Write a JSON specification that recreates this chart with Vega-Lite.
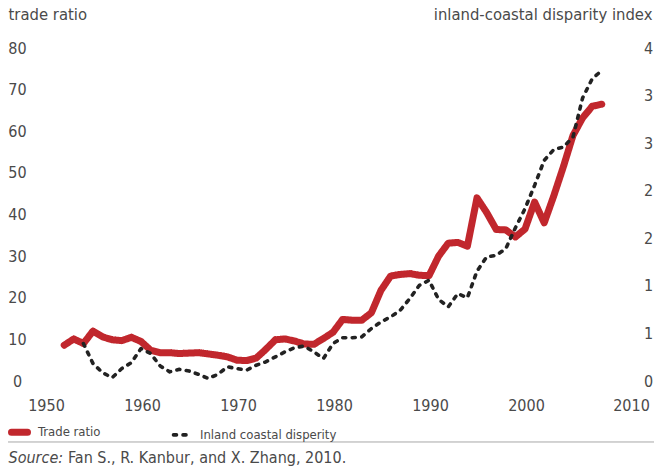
{
  "$schema": "https://vega.github.io/schema/vega-lite/v6.json",
  "width": 576,
  "height": 333,
  "autosize": {"type": "none"},
  "padding": {"left": 45, "top": 48, "right": 33, "bottom": 85},
  "background": "white",
  "config": {
    "view": {"stroke": null},
    "font": "DejaVu Sans Condensed, sans-serif",
    "axis": {
      "grid": false, "domain": false, "ticks": false, "tickSize": 0,
      "labelFont": "DejaVu Sans Condensed, sans-serif",
      "labelFontSize": 16, "labelColor": "#4a4a4a",
      "titleFont": "DejaVu Sans Condensed, sans-serif",
      "titleColor": "#4a4a4a", "titleFontWeight": "normal"
    },
    "legend": {
      "labelFont": "DejaVu Sans Condensed, sans-serif",
      "labelFontSize": 13, "labelColor": "#4a4a4a", "labelLimit": 300
    }
  },
  "data": {"values": [
    {"year": 1952, "series": "Trade ratio", "value": 8.6},
    {"year": 1953, "series": "Trade ratio", "value": 10.1},
    {"year": 1954, "series": "Trade ratio", "value": 9.0},
    {"year": 1955, "series": "Trade ratio", "value": 12.0},
    {"year": 1956, "series": "Trade ratio", "value": 10.6},
    {"year": 1957, "series": "Trade ratio", "value": 9.9},
    {"year": 1958, "series": "Trade ratio", "value": 9.7},
    {"year": 1959, "series": "Trade ratio", "value": 10.5},
    {"year": 1960, "series": "Trade ratio", "value": 9.5},
    {"year": 1961, "series": "Trade ratio", "value": 7.4},
    {"year": 1962, "series": "Trade ratio", "value": 6.8},
    {"year": 1963, "series": "Trade ratio", "value": 6.8},
    {"year": 1964, "series": "Trade ratio", "value": 6.6},
    {"year": 1965, "series": "Trade ratio", "value": 6.7},
    {"year": 1966, "series": "Trade ratio", "value": 6.8},
    {"year": 1967, "series": "Trade ratio", "value": 6.5},
    {"year": 1968, "series": "Trade ratio", "value": 6.2},
    {"year": 1969, "series": "Trade ratio", "value": 5.8},
    {"year": 1970, "series": "Trade ratio", "value": 5.0},
    {"year": 1971, "series": "Trade ratio", "value": 4.9},
    {"year": 1972, "series": "Trade ratio", "value": 5.5},
    {"year": 1973, "series": "Trade ratio", "value": 7.6},
    {"year": 1974, "series": "Trade ratio", "value": 9.9},
    {"year": 1975, "series": "Trade ratio", "value": 10.1},
    {"year": 1976, "series": "Trade ratio", "value": 9.6},
    {"year": 1977, "series": "Trade ratio", "value": 8.9},
    {"year": 1978, "series": "Trade ratio", "value": 8.8},
    {"year": 1979, "series": "Trade ratio", "value": 10.2},
    {"year": 1980, "series": "Trade ratio", "value": 11.7},
    {"year": 1981, "series": "Trade ratio", "value": 14.8},
    {"year": 1982, "series": "Trade ratio", "value": 14.6},
    {"year": 1983, "series": "Trade ratio", "value": 14.6},
    {"year": 1984, "series": "Trade ratio", "value": 16.4},
    {"year": 1985, "series": "Trade ratio", "value": 21.8},
    {"year": 1986, "series": "Trade ratio", "value": 25.2},
    {"year": 1987, "series": "Trade ratio", "value": 25.6},
    {"year": 1988, "series": "Trade ratio", "value": 25.8},
    {"year": 1989, "series": "Trade ratio", "value": 25.4},
    {"year": 1990, "series": "Trade ratio", "value": 25.3},
    {"year": 1991, "series": "Trade ratio", "value": 30.0},
    {"year": 1992, "series": "Trade ratio", "value": 33.1},
    {"year": 1993, "series": "Trade ratio", "value": 33.3},
    {"year": 1994, "series": "Trade ratio", "value": 32.4},
    {"year": 1995, "series": "Trade ratio", "value": 44.0},
    {"year": 1996, "series": "Trade ratio", "value": 40.5},
    {"year": 1997, "series": "Trade ratio", "value": 36.4},
    {"year": 1998, "series": "Trade ratio", "value": 36.3},
    {"year": 1999, "series": "Trade ratio", "value": 34.6},
    {"year": 2000, "series": "Trade ratio", "value": 36.5},
    {"year": 2001, "series": "Trade ratio", "value": 43.0},
    {"year": 2002, "series": "Trade ratio", "value": 38.0},
    {"year": 2003, "series": "Trade ratio", "value": 44.5},
    {"year": 2004, "series": "Trade ratio", "value": 51.5},
    {"year": 2005, "series": "Trade ratio", "value": 59.0},
    {"year": 2006, "series": "Trade ratio", "value": 63.2},
    {"year": 2007, "series": "Trade ratio", "value": 66.0},
    {"year": 2008, "series": "Trade ratio", "value": 66.5},
    {"year": 1954, "series": "Inland coastal disperity", "value": 0.45},
    {"year": 1955, "series": "Inland coastal disperity", "value": 0.21},
    {"year": 1956, "series": "Inland coastal disperity", "value": 0.10},
    {"year": 1957, "series": "Inland coastal disperity", "value": 0.04},
    {"year": 1958, "series": "Inland coastal disperity", "value": 0.15},
    {"year": 1959, "series": "Inland coastal disperity", "value": 0.22},
    {"year": 1960, "series": "Inland coastal disperity", "value": 0.39},
    {"year": 1961, "series": "Inland coastal disperity", "value": 0.33},
    {"year": 1962, "series": "Inland coastal disperity", "value": 0.18},
    {"year": 1963, "series": "Inland coastal disperity", "value": 0.11},
    {"year": 1964, "series": "Inland coastal disperity", "value": 0.14},
    {"year": 1965, "series": "Inland coastal disperity", "value": 0.12},
    {"year": 1966, "series": "Inland coastal disperity", "value": 0.08},
    {"year": 1967, "series": "Inland coastal disperity", "value": 0.03},
    {"year": 1968, "series": "Inland coastal disperity", "value": 0.08},
    {"year": 1969, "series": "Inland coastal disperity", "value": 0.17},
    {"year": 1970, "series": "Inland coastal disperity", "value": 0.15},
    {"year": 1971, "series": "Inland coastal disperity", "value": 0.13},
    {"year": 1972, "series": "Inland coastal disperity", "value": 0.19},
    {"year": 1973, "series": "Inland coastal disperity", "value": 0.23},
    {"year": 1974, "series": "Inland coastal disperity", "value": 0.29},
    {"year": 1975, "series": "Inland coastal disperity", "value": 0.35},
    {"year": 1976, "series": "Inland coastal disperity", "value": 0.40},
    {"year": 1977, "series": "Inland coastal disperity", "value": 0.42},
    {"year": 1978, "series": "Inland coastal disperity", "value": 0.35},
    {"year": 1979, "series": "Inland coastal disperity", "value": 0.27},
    {"year": 1980, "series": "Inland coastal disperity", "value": 0.45},
    {"year": 1981, "series": "Inland coastal disperity", "value": 0.52},
    {"year": 1982, "series": "Inland coastal disperity", "value": 0.52},
    {"year": 1983, "series": "Inland coastal disperity", "value": 0.53},
    {"year": 1984, "series": "Inland coastal disperity", "value": 0.63},
    {"year": 1985, "series": "Inland coastal disperity", "value": 0.71},
    {"year": 1986, "series": "Inland coastal disperity", "value": 0.77},
    {"year": 1987, "series": "Inland coastal disperity", "value": 0.85},
    {"year": 1988, "series": "Inland coastal disperity", "value": 0.99},
    {"year": 1989, "series": "Inland coastal disperity", "value": 1.15},
    {"year": 1990, "series": "Inland coastal disperity", "value": 1.21},
    {"year": 1991, "series": "Inland coastal disperity", "value": 0.98},
    {"year": 1992, "series": "Inland coastal disperity", "value": 0.89},
    {"year": 1993, "series": "Inland coastal disperity", "value": 1.05},
    {"year": 1994, "series": "Inland coastal disperity", "value": 1.00},
    {"year": 1995, "series": "Inland coastal disperity", "value": 1.32},
    {"year": 1996, "series": "Inland coastal disperity", "value": 1.49},
    {"year": 1997, "series": "Inland coastal disperity", "value": 1.51},
    {"year": 1998, "series": "Inland coastal disperity", "value": 1.59},
    {"year": 1999, "series": "Inland coastal disperity", "value": 1.84},
    {"year": 2000, "series": "Inland coastal disperity", "value": 2.07},
    {"year": 2001, "series": "Inland coastal disperity", "value": 2.35},
    {"year": 2002, "series": "Inland coastal disperity", "value": 2.65},
    {"year": 2003, "series": "Inland coastal disperity", "value": 2.78},
    {"year": 2004, "series": "Inland coastal disperity", "value": 2.81},
    {"year": 2005, "series": "Inland coastal disperity", "value": 2.93},
    {"year": 2006, "series": "Inland coastal disperity", "value": 3.40},
    {"year": 2007, "series": "Inland coastal disperity", "value": 3.63},
    {"year": 2008, "series": "Inland coastal disperity", "value": 3.73}
  ]},
  "encoding": {
    "color": {
      "field": "series", "type": "nominal",
      "scale": {"domain": ["Trade ratio", "Inland coastal disperity"], "range": ["#c1272d", "#222222"]},
      "legend": {
        "title": null, "orient": "none", "legendX": -37, "legendY": 372.5,
        "direction": "horizontal", "columns": 2, "columnPadding": 65,
        "symbolType": "stroke", "symbolSize": 256, "labelOffset": 7, "padding": 0,
        "encode": {"symbols": {"update": {"strokeCap": {"value": "round"}}}}
      }
    },
    "strokeDash": {
      "field": "series", "type": "nominal",
      "scale": {"domain": ["Trade ratio", "Inland coastal disperity"], "range": [[1, 0], [3, 6.5]]},
      "legend": null
    },
    "strokeWidth": {
      "field": "series", "type": "nominal",
      "scale": {"domain": ["Trade ratio", "Inland coastal disperity"], "range": [7, 3.6]},
      "legend": null
    }
  },
  "layer": [
    {
      "transform": [{"filter": "datum.series === 'Trade ratio'"}],
      "mark": {"type": "line", "strokeCap": "round", "strokeJoin": "round"},
      "encoding": {
        "x": {
          "field": "year", "type": "quantitative",
          "scale": {"domain": [1950, 2010], "nice": false, "zero": false},
          "axis": {
            "values": [1950, 1960, 1970, 1980, 1990, 2000, 2010],
            "format": "d", "labelPadding": 24, "labelBaseline": "middle",
            "labelFlush": false, "labelOverlap": false,
            "labelOffset": {"condition": {"test": "datum.value === 2010", "value": 10}, "value": 1},
            "title": "Fan S., R. Kanbur, and X. Zhang, 2010.",
            "titleX": 22.5, "titleY": 76, "titleAlign": "left", "titleBaseline": "middle",
            "titleFontSize": 16
          }
        },
        "y": {
          "field": "value", "type": "quantitative",
          "scale": {"domain": [0, 80], "nice": false},
          "axis": {
            "orient": "left",
            "values": [0, 10, 20, 30, 40, 50, 60, 70, 80],
            "labelPadding": 28, "labelAlign": "center",
            "title": "trade ratio", "titleAngle": 0, "titleX": -37, "titleY": -34,
            "titleAlign": "left", "titleBaseline": "middle", "titleFontSize": 16.5
          }
        }
      }
    },
    {
      "transform": [{"filter": "datum.series === 'Inland coastal disperity'"}],
      "mark": {"type": "line", "strokeCap": "round", "strokeJoin": "round"},
      "encoding": {
        "x": {
          "field": "year", "type": "quantitative",
          "scale": {"domain": [1950, 2010], "nice": false, "zero": false},
          "axis": {
            "values": [1950, 1960, 1970, 1980, 1990, 2000, 2010],
            "format": "d", "labelPadding": 24, "labelBaseline": "middle",
            "labelFlush": false, "labelOverlap": false,
            "labelOffset": {"condition": {"test": "datum.value === 2010", "value": 10}, "value": 1},
            "title": "Fan S., R. Kanbur, and X. Zhang, 2010.",
            "titleX": 22.5, "titleY": 76, "titleAlign": "left", "titleBaseline": "middle",
            "titleFontSize": 16
          }
        },
        "y": {
          "field": "value", "type": "quantitative",
          "scale": {"domain": [0, 4], "nice": false},
          "axis": {
            "orient": "right",
            "values": [0, 0.5714286, 1.1428571, 1.7142857, 2.2857143, 2.8571429, 3.4285714, 4],
            "format": ".0f",
            "labelPadding": 27, "labelAlign": "center",
            "title": "inland-coastal disparity index", "titleAngle": 0, "titleX": 31, "titleY": -34,
            "titleAlign": "right", "titleBaseline": "middle", "titleFontSize": 16.5
          }
        }
      }
    },
    {
      "data": {"values": [{"line": "separator"}]},
      "mark": {"type": "rule", "clip": false},
      "encoding": {
        "x": {"datum": 1946.15},
        "x2": {"datum": 2013.44},
        "y": {
          "datum": -14.65,
          "scale": {"domain": [0, 80], "nice": false},
          "axis": {
            "orient": "left", "labels": false, "values": [],
            "title": "Source:", "titleAngle": 0, "titleX": -37, "titleY": 409,
            "titleAlign": "left", "titleBaseline": "middle", "titleFontSize": 16,
            "titleFontStyle": "italic"
          }
        },
        "color": {"value": "#a6a6a6"},
        "strokeDash": {"value": [1, 0]},
        "strokeWidth": {"value": 1}
      }
    }
  ],
  "resolve": {"scale": {"y": "independent"}}
}
